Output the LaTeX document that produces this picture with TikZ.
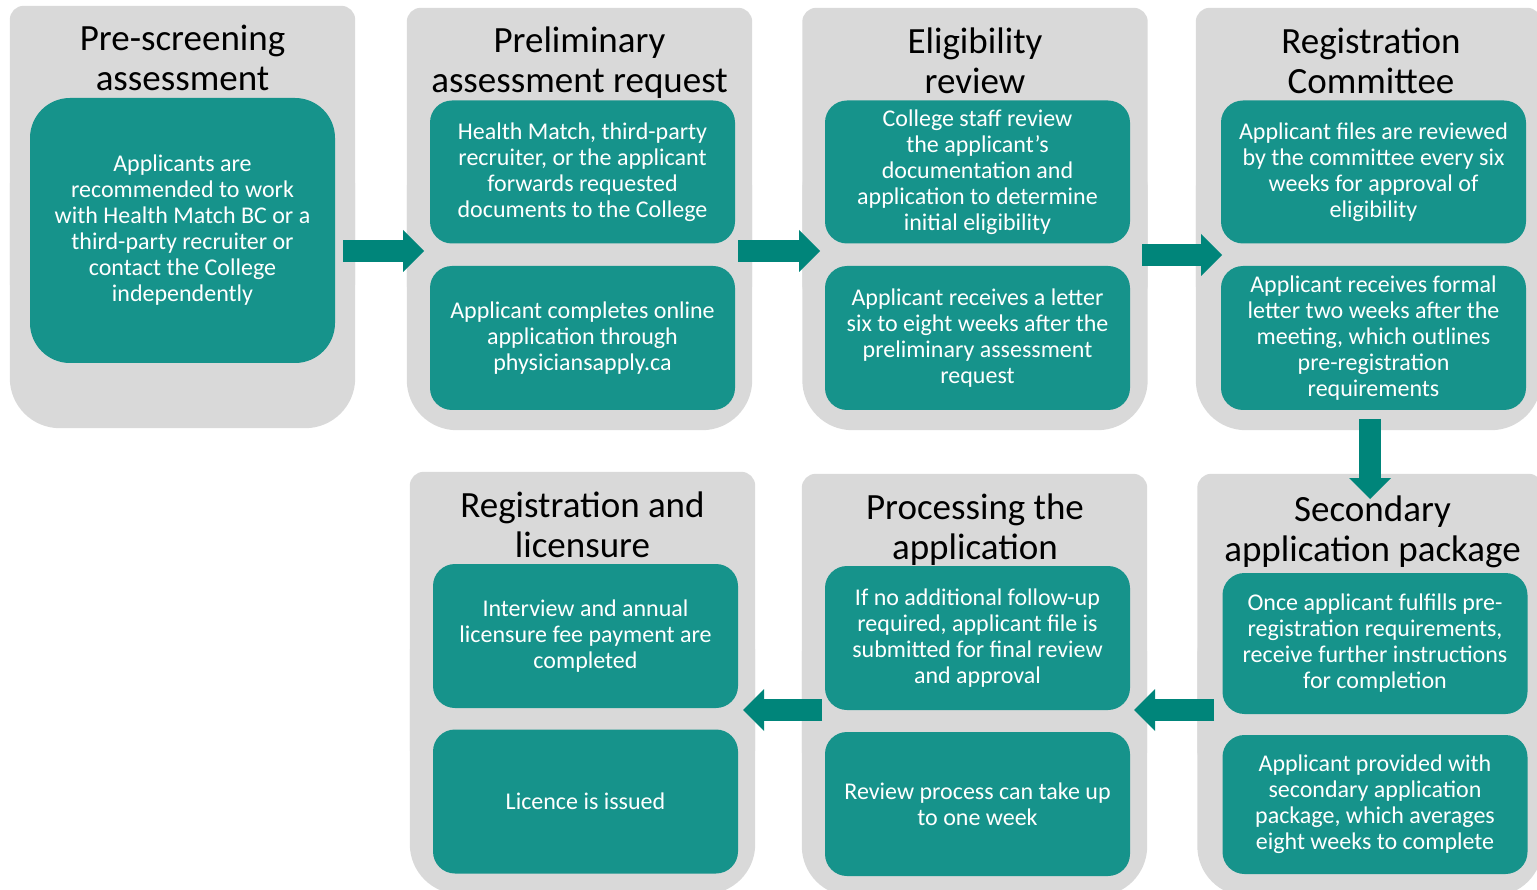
\documentclass[tikz,border=0pt]{standalone}
\usepackage{fontspec}
\setmainfont{Carlito}
\usetikzlibrary{arrows.meta}

\definecolor{panelgrey}{HTML}{D9D9D9}
\definecolor{boxteal}{HTML}{16938B}
\definecolor{arrowteal}{HTML}{00857A}

\newcommand{\panelshape}[1]{%
  \fill[panelgrey, rounded corners=14pt] (#1.north west) rectangle ([yshift=-80pt]#1.east);
  \fill[panelgrey, rounded corners=50pt] ([yshift=80pt]#1.west) rectangle (#1.south east);}

\begin{document}
\begin{tikzpicture}[x=1pt,y=-1pt,
  panel/.style={minimum width=345pt, minimum height=422pt, inner sep=0pt},
  title/.style={align=center, inner sep=0pt, font=\fontsize{37}{40}\selectfont},
  stepbox/.style={fill=boxteal, text=white, rounded corners=22pt, minimum width=305pt,
    align=center, inner sep=0pt, font=\fontsize{24}{26}\selectfont},
  blockarrow/.style={arrowteal, line width=22pt,
    -{Triangle[length=21pt,width=42pt,line width=0pt]}}]
 \useasboundingbox (0,0) rectangle (1537,890);

 \node[panel] (pre) at (182.5,217) {};
 \node[panel] (prelim) at (579.5,219) {};
 \node[panel] (elig) at (975,219) {};
 \node[panel] (regc) at (1368.5,219) {};
 \node[panel] (lic) at (582.5,683) {};
 \node[panel] (proc) at (974.5,685) {};
 \node[panel] (second) at (1370,685) {};
 \foreach \p in {pre,prelim,elig,regc,lic,proc,second}
   \panelshape{\p};

 \node[title] (preT) at (182.5,58) {Pre-screening\\assessment};
 \node[title] (prelimT) at (579.5,63) {Preliminary\\assessment request};
 \node[title] (eligT) at (975,60.5) {Eligibility\\review};
 \node[title] (regcT) at (1371,60.5) {Registration\\Committee};
 \node[title] (licT) at (582.5,525) {Registration and\\licensure};
 \node[title] (procT) at (975,529.5) {Processing the\\application};
 \node[title] (secondT) at (1372.5,531.5) {Secondary\\application package};

 \node[stepbox, rounded corners=40pt, minimum height=265pt] (preA) at (182.5,230.5)
   {Applicants are\\recommended to work\\with Health Match BC or a\\third-party recruiter or\\contact the College\\independently};

 \node[stepbox, minimum height=143pt] (prelimA) at (582.5,172)
   {Health Match, third-party\\recruiter, or the applicant\\forwards requested\\documents to the College};
 \node[stepbox, minimum height=144pt] (prelimB) at (582.5,338)
   {Applicant completes online\\application through\\physiciansapply.ca};

 \node[stepbox, minimum height=143pt] (eligA) at (977.5,172)
   {College staff review\\the applicant’s\\documentation and\\application to determine\\initial eligibility};
 \node[stepbox, minimum height=144pt] (eligB) at (977.5,338)
   {Applicant receives a letter\\six to eight weeks after the\\preliminary assessment\\request};

 \node[stepbox, minimum height=143pt] (regcA) at (1373.5,172)
   {Applicant files are reviewed\\by the committee every six\\weeks for approval of\\eligibility};
 \node[stepbox, minimum height=144pt] (regcB) at (1373.5,338)
   {Applicant receives formal\\letter two weeks after the\\meeting, which outlines\\pre-registration\\requirements};

 \node[stepbox, minimum height=141pt] (secondA) at (1375,643.5)
   {Once applicant fulfills pre-\\registration requirements,\\receive further instructions\\for completion};
 \node[stepbox, minimum height=139pt] (secondB) at (1375,804.5)
   {Applicant provided with\\secondary application\\package, which averages\\eight weeks to complete};

 \node[stepbox, minimum height=144pt] (procA) at (977.5,638)
   {If no additional follow-up\\required, applicant file is\\submitted for final review\\and approval};
 \node[stepbox, minimum height=144pt] (procB) at (977.5,804)
   {Review process can take up\\to one week};

 \node[stepbox, minimum height=144pt] (licA) at (585.5,636)
   {Interview and annual\\licensure fee payment are\\completed};
 \node[stepbox, minimum height=144pt] (licB) at (585.5,801.5)
   {Licence is issued};

 \coordinate (a1s) at (343,251);
 \coordinate (a1e) at (424,251);
 \coordinate (a2s) at (738,251);
 \coordinate (a2e) at (820,251);
 \coordinate (a3s) at (1142,255);
 \coordinate (a3e) at (1222,255);
 \coordinate (a4s) at (1370,419);
 \coordinate (a4e) at (1370,499);
 \coordinate (a5s) at (1214,710);
 \coordinate (a5e) at (1134,710);
 \coordinate (a6s) at (822,710);
 \coordinate (a6e) at (743,710);

 \draw[blockarrow] (a1s) -- (a1e);
 \draw[blockarrow] (a2s) -- (a2e);
 \draw[blockarrow] (a3s) -- (a3e);
 \draw[blockarrow] (a4s) -- (a4e);
 \draw[blockarrow] (a5s) -- (a5e);
 \draw[blockarrow] (a6s) -- (a6e);
\end{tikzpicture}
\end{document}
